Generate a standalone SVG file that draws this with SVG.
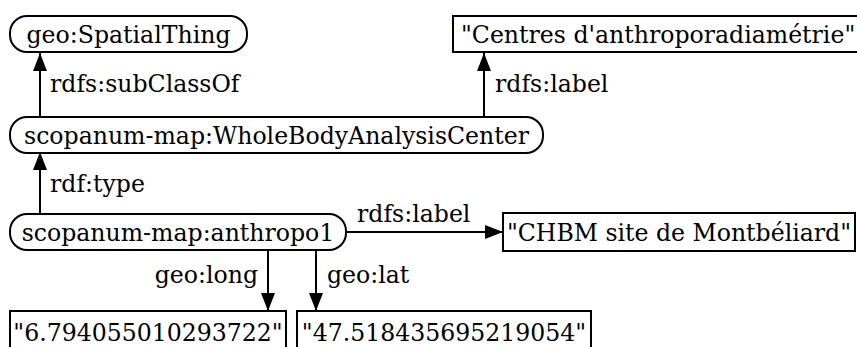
<svg xmlns="http://www.w3.org/2000/svg" width="857" height="347" viewBox="0 0 857 347">
<style>
text{font-family:"DejaVu Serif",serif;font-size:23.6px;fill:#000}
.n{fill:#fff;stroke:#000;stroke-width:2}
.e{stroke:#000;stroke-width:2;fill:none}
</style>
<defs>
<marker id="a" markerWidth="18" markerHeight="14" refX="18" refY="7" orient="auto" markerUnits="userSpaceOnUse" viewBox="0 0 18 14">
<path d="M0,0 L18,7 L0,14 z" fill="#000"/>
</marker>
</defs>
<rect width="857" height="347" fill="#fff"/>
<g id="connectors">
<line class="e" x1="40" y1="118" x2="40" y2="53" marker-end="url(#a)"/>
<line class="e" x1="484" y1="118" x2="484" y2="53" marker-end="url(#a)"/>
<line class="e" x1="40" y1="213" x2="40" y2="152" marker-end="url(#a)"/>
<line class="e" x1="346" y1="232" x2="503" y2="232" marker-end="url(#a)"/>
<line class="e" x1="268" y1="250" x2="268" y2="311" marker-end="url(#a)"/>
<line class="e" x1="316" y1="250" x2="316" y2="311" marker-end="url(#a)"/>
<text x="50" y="92">rdfs:subClassOf</text>
<text x="495" y="92">rdfs:label</text>
<text x="50" y="192">rdf:type</text>
<text x="357" y="222">rdfs:label</text>
<text x="258" y="283" text-anchor="end">geo:long</text>
<text x="327" y="283">geo:lat</text>
</g>
<g id="n1"><rect class="n" x="10" y="16" width="237" height="36" rx="17"/><text x="128.5" y="43" text-anchor="middle">geo:SpatialThing</text></g>
<g id="n2"><rect class="n" x="453" y="16" width="410" height="36"/><text x="461" y="43">"Centres d'anthroporadiamétrie"</text></g>
<g id="n3"><rect class="n" x="10" y="117" width="533" height="36" rx="17"/><text x="276.5" y="144" text-anchor="middle">scopanum-map:WholeBodyAnalysisCenter</text></g>
<g id="n4"><rect class="n" x="10" y="214" width="336" height="36" rx="17"/><text x="178" y="241" text-anchor="middle">scopanum-map:anthropo1</text></g>
<g id="n5"><rect class="n" x="503" y="213" width="352" height="38"/><text x="679" y="241" text-anchor="middle">"CHBM site de Montbéliard"</text></g>
<g id="n6"><rect class="n" x="10" y="311" width="276" height="40"/><text x="148" y="341" text-anchor="middle">"6.794055010293722"</text></g>
<g id="n7"><rect class="n" x="297" y="311" width="294" height="40"/><text x="444" y="341" text-anchor="middle">"47.518435695219054"</text></g>
</svg>
